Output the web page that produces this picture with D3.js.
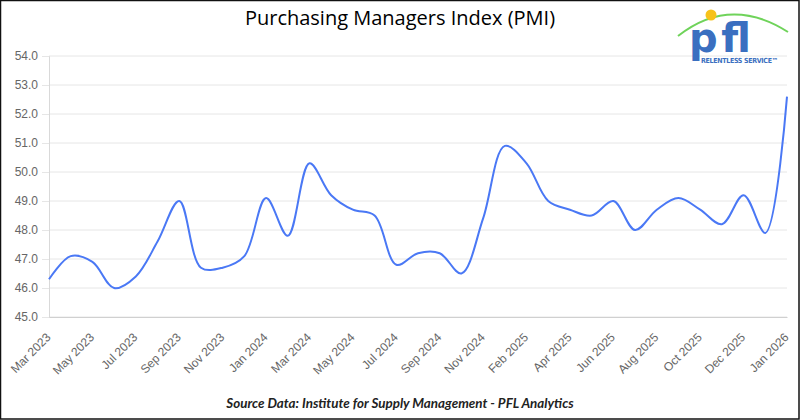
<!DOCTYPE html>
<html>
<head>
<meta charset="utf-8">
<script src="https://cdn.jsdelivr.net/npm/d3@7"></script>
<style>
  body { margin: 0; background: #fff; }
  svg { display: block; }
</style>
</head>
<body>
<div id="chart"></div>
<script>
// month labels for each point (as shown in the source chart)
const months = [
  "Mar 2023", "Apr 2023", "May 2023", "Jun 2023", "Jul 2023", "Aug 2023", "Sep 2023",
  "Oct 2023", "Nov 2023", "Dec 2023", "Jan 2024", "Feb 2024", "Mar 2024", "Apr 2024",
  "May 2024", "Jun 2024", "Jul 2024", "Aug 2024", "Sep 2024", "Oct 2024", "Nov 2024",
  "Jan 2025", "Feb 2025", "Mar 2025", "Apr 2025", "May 2025", "Jun 2025", "Jul 2025",
  "Aug 2025", "Sep 2025", "Oct 2025", "Nov 2025", "Dec 2025", "Dec 2025", "Jan 2026"
];
const pmi = [
  46.3, 47.1, 46.9, 46.0, 46.4, 47.6, 49.0,
  46.7, 46.7, 47.1, 49.1, 47.8, 50.3, 49.2,
  48.7, 48.5, 46.8, 47.2, 47.2, 46.5, 48.4,
  50.9, 50.3, 49.0, 48.7, 48.5, 49.0, 48.0,
  48.7, 49.1, 48.7, 48.2, 49.2, 47.9, 52.6
];
const yTicks = [45, 46, 47, 48, 49, 50, 51, 52, 53, 54];
const labelIdx = [0, 2, 4, 6, 8, 10, 12, 14, 16, 18, 20, 22, 24, 26, 28, 30, 32, 34];

const W = 800, H = 420;
const margin = {top: 56, right: 13, bottom: 103, left: 49};
const width = W - margin.left - margin.right,
      height = H - margin.top - margin.bottom;

const svg = d3.select("#chart").append("svg")
    .attr("width", W)
    .attr("height", H);

svg.append("rect")
    .attr("x", 0.5).attr("y", 0.5)
    .attr("width", W - 1.5).attr("height", H - 1.5)
    .attr("fill", "#fff")
    .attr("stroke", "#111")
    .attr("stroke-width", 1.5);

svg.append("text")
    .attr("x", W / 2).attr("y", 25)
    .attr("text-anchor", "middle")
    .style("font-family", "'Open Sans', 'Noto Sans', sans-serif")
    .style("font-size", "20px")
    .style("fill", "#000")
    .text("Purchasing Managers Index (PMI)");

svg.append("text")
    .attr("x", W / 2).attr("y", 408)
    .attr("text-anchor", "middle")
    .style("font-family", "Lato, 'Open Sans', sans-serif")
    .style("font-size", "13.4px")
    .style("font-weight", "bold")
    .style("font-style", "italic")
    .style("fill", "#222")
    .text("Source Data: Institute for Supply Management - PFL Analytics");

const g = svg.append("g")
    .attr("transform", `translate(${margin.left},${margin.top})`);

let x = d3.scaleLinear()
    .domain([0, pmi.length - 1])
    .range([0, width]);

let y = d3.scaleLinear()
    .domain([45, 54])
    .range([height, 0]);

// horizontal grid + y ticks
const yAxis = d3.axisLeft(y)
    .tickValues(yTicks)
    .tickSize(7)
    .tickPadding(4)
    .tickFormat(d3.format(".1f"));

g.append("g")
    .attr("class", "grid")
    .selectAll("line")
    .data(yTicks)
    .enter().append("line")
    .attr("x1", 0).attr("x2", width)
    .attr("y1", d => y(d)).attr("y2", d => y(d))
    .style("stroke", "#e6e6e6")
    .style("stroke-width", 1);

const ya = g.append("g").call(yAxis);
ya.select(".domain").style("stroke", "#d9d9d9");
ya.selectAll(".tick line").style("stroke", "#e6e6e6");
ya.selectAll("text")
    .style("font-family", "'Liberation Sans', Arial, sans-serif")
    .style("font-size", "12px")
    .style("fill", "#666");

// x axis
const xAxis = d3.axisBottom(x)
    .tickValues(labelIdx)
    .tickSize(0)
    .tickFormat(i => months[i]);

const xa = g.append("g")
    .attr("transform", `translate(0,${height})`)
    .call(xAxis);
xa.select(".domain").style("stroke", "#d0d0d0");
xa.selectAll("text")
    .style("font-family", "'Liberation Sans', Arial, sans-serif")
    .style("font-size", "12px")
    .style("fill", "#666")
    .attr("text-anchor", "end")
    .attr("y", 0)
    .attr("dy", 0)
    .attr("transform", "translate(2,21) rotate(-45)");

// line
const line = d3.line()
    .x((d, i) => x(i))
    .y(d => y(d))
    .curve(d3.curveCatmullRom.alpha(0.5));

g.append("path")
    .datum(pmi)
    .attr("d", line)
    .attr("fill", "none")
    .style("stroke", "#4a78f5")
    .style("stroke-width", 2);

// logo
const logo = svg.append("g");
logo.append("path")
    .attr("d", "M678,36 Q730,-5 788,32")
    .attr("fill", "none")
    .style("stroke", "#6fd35a")
    .style("stroke-width", 2);
logo.append("circle")
    .attr("cx", 711).attr("cy", 15).attr("r", 5.5)
    .attr("fill", "#f7c21a");
logo.append("text")
    .attr("x", 689).attr("y", 52)
    .attr("textLength", 62)
    .style("font-family", "'DejaVu Sans', sans-serif")
    .style("font-size", "40px")
    .style("font-weight", "bold")
    .style("fill", "#3a6fc0")
    .text("pfl");
logo.append("text")
    .attr("x", 701).attr("y", 63)
    .attr("textLength", 77)
    .style("font-family", "'DejaVu Sans Condensed', 'DejaVu Sans', sans-serif")
    .style("font-size", "7px")
    .style("font-weight", "bold")
    .style("fill", "#3a6fc0")
    .text("RELENTLESS SERVICE\u2122");
</script>
</body>
</html>
